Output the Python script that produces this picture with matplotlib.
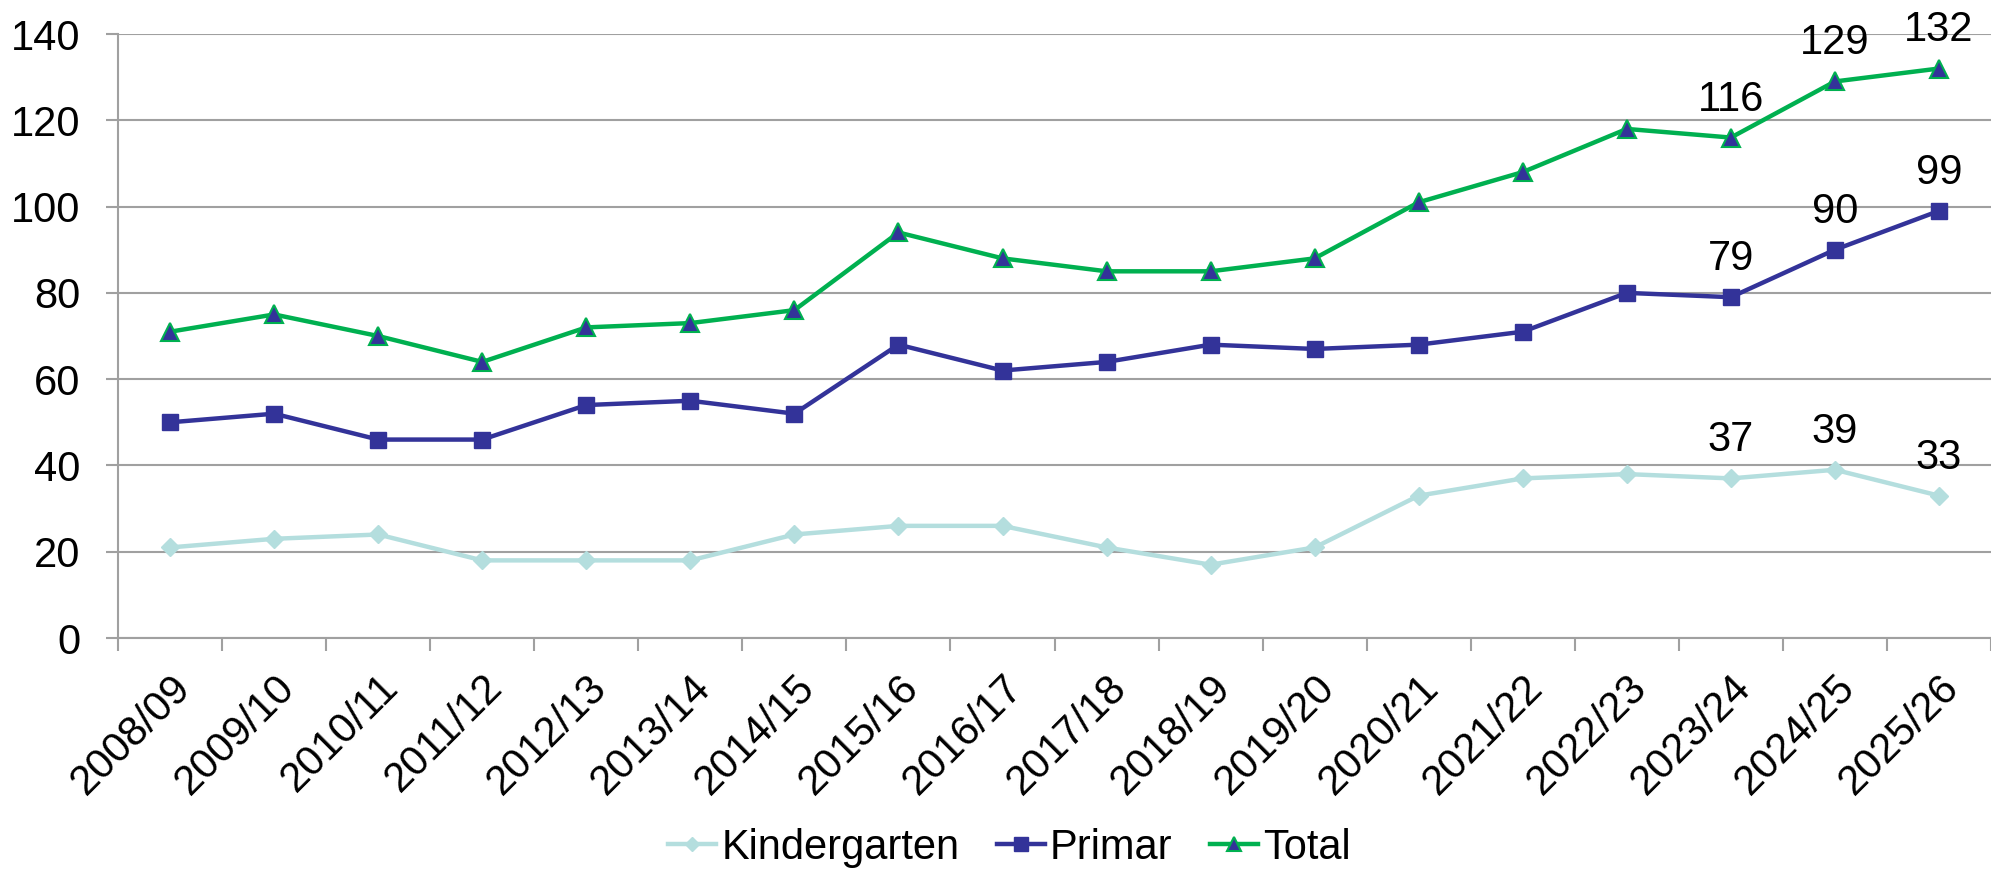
import numpy as np
import matplotlib.pyplot as plt

years = ["2008/09", "2009/10", "2010/11", "2011/12", "2012/13", "2013/14",
         "2014/15", "2015/16", "2016/17", "2017/18", "2018/19", "2019/20",
         "2020/21", "2021/22", "2022/23", "2023/24", "2024/25", "2025/26"]
kindergarten = [21, 23, 24, 18, 18, 18, 24, 26, 26, 21, 17, 21, 33, 37, 38, 37, 39, 33]
primar = [50, 52, 46, 46, 54, 55, 52, 68, 62, 64, 68, 67, 68, 71, 80, 79, 90, 99]
total = [71, 75, 70, 64, 72, 73, 76, 94, 88, 85, 85, 88, 101, 108, 118, 116, 129, 132]
labelled = years[-3:]

plt.rcParams["font.family"] = ["Liberation Sans", "DejaVu Sans"]

fig = plt.figure(figsize=(19.91, 8.72), dpi=100)
ax = fig.add_axes([0.0593, 0.2683, 0.9407, 0.6927])

x = np.arange(len(years))
grey = "#A0A0A0"

ax.plot(x, kindergarten, color="#B4DEDE", lw=3.2, marker="D", ms=9,
        mfc="#B4DEDE", mec="#B4DEDE", label="Kindergarten", zorder=3)
ax.plot(x, primar, color="#333399", lw=3.2, marker="s", ms=12,
        mfc="#333399", mec="#333399", label="Primar", zorder=3)
ax.plot(x, total, color="#00B050", lw=3.2, marker="^", ms=13,
        mfc="#333399", mec="#00B050", mew=1.5, label="Total", zorder=3)

# data labels on the last three seasons
for series in (kindergarten, primar, total):
    for name in labelled:
        i = years.index(name)
        ax.annotate(str(series[i]), (x[i], series[i]), xytext=(0, 13),
                    textcoords="offset points", ha="center", va="bottom",
                    fontsize=30, zorder=4)

ax.set_xlim(-0.5, len(years) - 0.5)
ax.set_ylim(0, 140)
ax.set_yticks(np.arange(0, 141, 20))
ax.yaxis.grid(True, color=grey, lw=1.5)
ax.set_axisbelow(True)

ax.set_xticks(x)
ax.set_xticklabels(years, rotation=45, ha="right", va="top",
                   rotation_mode="anchor", fontsize=30)
ax.set_xticks(np.arange(len(years) + 1) - 0.5, minor=True)
ax.tick_params(axis="x", which="major", length=0, pad=21)
ax.tick_params(axis="x", which="minor", length=9, width=1.5, color=grey)
ax.tick_params(axis="y", length=9, width=1.5, color=grey, labelsize=30, pad=18)

for side in ("top", "right"):
    ax.spines[side].set_visible(False)
for side in ("left", "bottom"):
    ax.spines[side].set_color(grey)
    ax.spines[side].set_linewidth(1.5)

fig.legend(loc="center", bbox_to_anchor=(0.507, 0.028), ncol=3, frameon=False,
           fontsize=30, handlelength=1.15, handletextpad=0.12,
           columnspacing=0.9, borderaxespad=0, markerscale=0.8)

fig.savefig("out.png", dpi=100)
